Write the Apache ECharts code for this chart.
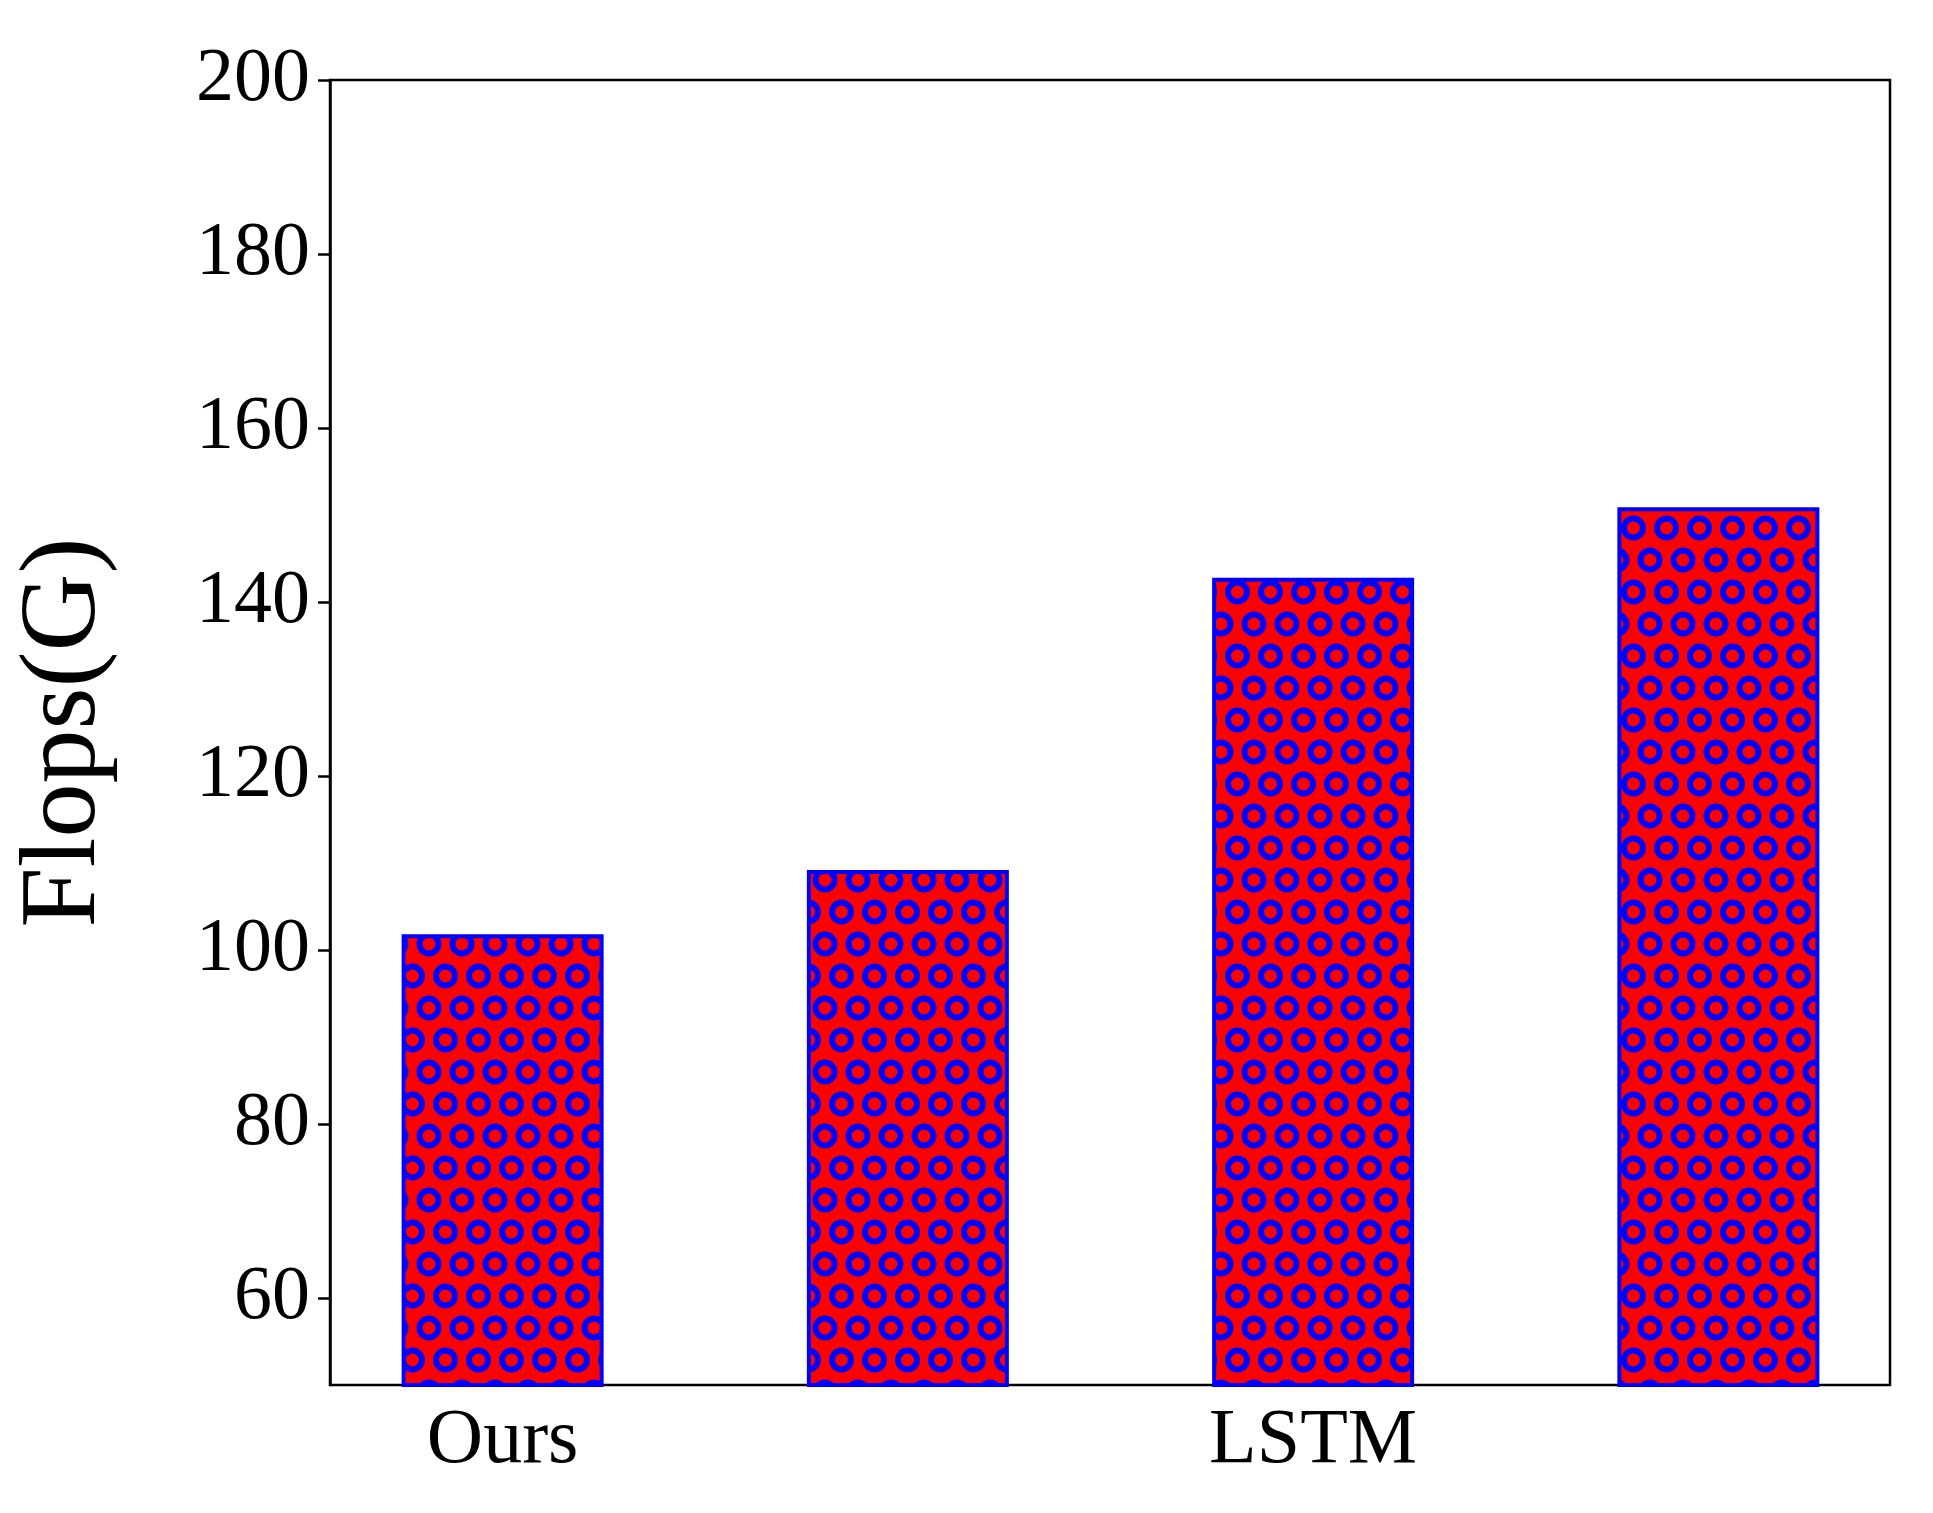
<!DOCTYPE html>
<html><head><meta charset="utf-8">
<script src="https://cdn.jsdelivr.net/npm/echarts@6/dist/echarts.min.js"></script>
<style>html,body{margin:0;background:#fff}#c{width:1933px;height:1513px}</style>
</head><body><div id="c"></div>
<script>
var categories = ['Ours', 'CNN-LSTM', 'LSTM', 'CNN'];
var flops = [101.8, 109.2, 142.8, 150.9];
var yTicks = [60, 80, 100, 120, 140, 160, 180, 200];

// tile: red with blue rings, staggered rows
var tile = document.createElement('canvas');
tile.width = 33; tile.height = 64;
var g = tile.getContext('2d');
g.fillStyle = '#ff0000'; g.fillRect(0, 0, 33, 64);
g.strokeStyle = '#0000ff'; g.lineWidth = 6;
[[16.5, 16], [0, 48], [33, 48]].forEach(function(p){
  g.beginPath(); g.arc(p[0], p[1], 9.5, 0, Math.PI * 2); g.stroke();
});

var font = 'Liberation Serif';
var chart = echarts.init(document.getElementById('c'));
chart.setOption({
  animation: false,
  grid: [
    {left: 330, right: 43, top: 80, bottom: 128, show: true, borderColor: '#000', borderWidth: 2.5, backgroundColor: 'transparent'},
    {left: 300, right: 12, top: 80, bottom: 128}
  ],
  xAxis: [
    {gridIndex: 0, type: 'value', show: false, min: 0, max: 1},
    {gridIndex: 1, type: 'category', data: categories,
     axisLine: {show: false},
     axisTick: {alignWithLabel: true, length: 12, lineStyle: {color: '#000', width: 2.5}},
     axisLabel: {fontFamily: font, fontSize: 78, color: '#000', margin: 18}}
  ],
  yAxis: [
    {gridIndex: 0, type: 'value', min: 50, max: 200,
     name: 'Flops(G)', nameLocation: 'middle', nameGap: 210,
     nameTextStyle: {fontFamily: font, fontSize: 108, color: '#000'},
     axisLine: {show: true, lineStyle: {color: '#000', width: 2.5}},
     axisTick: {show: true, length: 12, customValues: yTicks, lineStyle: {color: '#000', width: 2.5}},
     axisLabel: {fontFamily: font, fontSize: 76, color: '#000', margin: 20, customValues: yTicks},
     splitLine: {show: false}},
    {gridIndex: 1, type: 'value', min: 50, max: 200, show: false, splitLine: {show: false}}
  ],
  series: [{
    type: 'bar', xAxisIndex: 1, yAxisIndex: 1, data: flops, barWidth: 202,
    itemStyle: {color: {image: tile, repeat: 'repeat'}, borderColor: '#0000ff', borderWidth: 4}
  }]
});
</script></body></html>
